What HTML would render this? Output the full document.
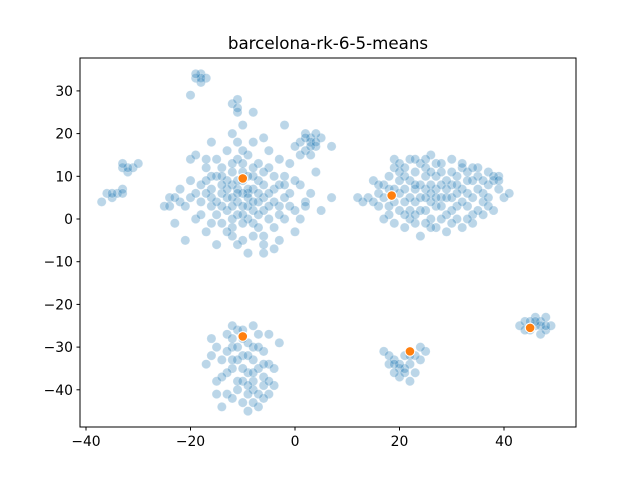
<!DOCTYPE html>
<html><head><meta charset="utf-8"><style>
html,body{margin:0;padding:0;background:#fff;}
svg{display:block;font-family:"DejaVu Sans","Liberation Sans",sans-serif;}
</style></head><body>
<svg id="chart" width="640" height="480">
<rect x="0" y="0" width="640" height="480" fill="#fff"/>
<text x="328" y="49" font-size="16.7" text-anchor="middle">barcelona-rk-6-5-means</text>
<g id="points"></g>
<g id="centers"></g>
<rect x="80" y="58" width="496" height="369" fill="none" stroke="#000" stroke-width="1"/>
<g id="axes"></g>
</svg>
<script>
const xTicks=[-40,-20,0,20,40];
const yTicks=[-40,-30,-20,-10,0,10,20,30];
const clusterA=[[-20,5],[-18,8],[-16,3],[-15,10],[-14,6],[-13,2],[-12,8],[-11,4],[-10,11],[-9,6],[-8,2],[-7,9],[-6,5],[-5,12],[-4,7],[-3,3],[-2,10],[-1,6],[0,2],[1,8],[2,4],[-19,0],[-17,-3],[-15,-6],[-12,-2],[-10,-5],[-8,-1],[-6,-4],[-4,-2],[-2,0],[-11,14],[-9,15],[-7,13],[-13,16],[-15,14],[-17,12],[-5,16],[-3,14],[-12,20],[-10,22],[-11,25],[-12,27],[-11,28],[-8,25],[-16,18],[-6,19],[-22,4],[-24,5],[-25,3],[-23,-1],[-21,-5],[-20,14],[-19,15],[-18,34],[-17,33],[-19,33],[-18,32],[-20,29],[-16,10],[-14,12],[-12,11],[-10,9],[-8,7],[-6,8],[-4,4],[-2,5],[0,9],[3,6],[5,2],[7,5],[-13,5],[-11,7],[-9,3],[-7,1],[-5,0],[-3,-5],[0,-3],[2,3],[-16,7],[-18,4],[-20,9],[-22,7],[-14,-1],[-9,-8],[-6,-8],[-1,13],[1,15],[4,11],[-8,18],[-2,22],[-12,5],[-10,3],[-9,7],[-11,1],[-13,9],[-7,4],[-8,10],[-10,6],[-14,3],[-6,2],[-15,4],[-12,-4],[-9,0],[-3,8],[-5,3],
[-11,6],[-9,5],[-12,3],[-10,1],[-8,4],[-13,7],[-11,9],[-9,10],[-7,6],[-14,8],[-16,5],[-12,0],[-10,-1],[-7,-2],[-5,6],[-4,10],[-6,11],[-8,12],[-10,13],[-12,13],[-14,10],[-17,6],[-19,6],[-21,3],[-18,1],[-16,-1],[-13,-3],[-11,-6],[-6,-6],[-3,1],[-1,3],[1,0],[-17,9],[-15,1],[-10,16],[-11,18],[-11,26],[-18,33],[-19,34],[-17,14],[-23,5],[-24,3],[-8,-4],[-4,-7],[-2,8]];
const clusterB=[[1,18],[2,20],[3,19],[4,17],[2,16],[5,19],[3,15],[0,17],[7,17],[4,20],[3,18],[2,19],[3,17],[4,18]];
const clusterC=[[-36,6],[-35,5],[-34,6],[-33,7],[-33,12],[-32,11],[-31,12],[-30,13],[-37,4],[-33,6],[-32,12],[-35,6],[-33,13]];
const clusterD=[[14,5],[16,3],[17,8],[18,1],[19,12],[20,6],[21,-2],[22,9],[23,4],[24,13],[25,7],[26,0],[27,10],[28,5],[29,-3],[30,8],[31,3],[32,12],[33,6],[34,1],[35,10],[36,4],[37,8],[38,2],[39,7],[40,5],[41,6],[15,9],[17,0],[19,4],[21,10],[23,-1],[25,12],[27,3],[29,9],[31,0],[33,11],[35,2],[37,11],[19,14],[22,14],[26,15],[30,14],[16,6],[18,10],[20,2],[22,5],[24,8],[26,4],[28,11],[30,2],[32,7],[34,9],[36,6],[24,-4],[27,-2],[32,-2],[13,4],[39,10],[21,7],[23,11],[25,2],[27,7],[29,5],[31,10],[33,3],[18,7],[20,11],[35,7],[24,5],[26,8],[28,3],[22,2],[30,5],[38,9],
[12,5],[15,4],[17,5],[19,7],[20,9],[21,4],[22,0],[23,7],[24,2],[25,10],[26,6],[27,13],[28,8],[29,1],[30,11],[31,6],[32,4],[33,9],[34,5],[35,12],[36,9],[37,5],[38,10],[39,9],[37,3],[36,1],[34,-1],[33,0],[30,-1],[28,0],[26,-2],[25,-1],[23,1],[21,1],[19,-1],[18,3],[16,8],[20,13],[23,14],[25,14],[28,13],[32,13],[34,12],[29,7],[27,5],[25,5],[23,8],[21,12],[31,8],[26,11]];
const clusterE=[[-17,-34],[-15,-30],[-15,-38],[-14,-33],[-13,-27],[-13,-41],[-12,-35],[-12,-30],[-11,-26],[-11,-38],[-10,-32],[-10,-43],[-9,-36],[-9,-29],[-8,-40],[-8,-33],[-7,-44],[-7,-27],[-6,-37],[-6,-31],[-5,-41],[-5,-34],[-4,-39],[-3,-29],[-14,-44],[-12,-42],[-9,-45],[-16,-28],[-11,-33],[-7,-35],[-13,-36],[-10,-38],[-8,-30],[-6,-42],[-4,-35],[-12,-25],[-8,-25],[-15,-41],[-10,-28],[-5,-27],[-8,-38],[-9,-41],
[-11,-30],[-9,-32],[-7,-30],[-12,-33],[-10,-35],[-8,-36],[-6,-39],[-7,-41],[-9,-39],[-11,-40],[-13,-31],[-14,-37],[-6,-34],[-5,-38],[-8,-43],[-10,-26],[-12,-28],[-16,-32]];
const clusterF=[[17,-31],[18,-34],[19,-33],[20,-35],[20,-37],[21,-32],[22,-34],[22,-38],[23,-36],[24,-33],[25,-31],[24,-30],[19,-36],[21,-35],[23,-32],[18,-32],[20,-34],[19,-34],[21,-36],[22,-32]];
const clusterG=[[43,-25],[44,-24],[45,-26],[46,-23],[46,-25],[47,-27],[47,-24],[48,-26],[48,-23],[49,-25],[45,-24],[44,-26],[47,-25],[46,-24],[48,-25]];
const centroids=[[-10,9.5],[18.5,5.5],[-10,-27.5],[22,-31],[45,-25.5]];
const NS="http://www.w3.org/2000/svg";
function sx(v){return 295+v*5.225;}
function sy(v){return 219-v*4.27;}
const pg=document.getElementById('points');
[clusterA,clusterB,clusterC,clusterD,clusterE,clusterF,clusterG].forEach(cl=>{
  cl.forEach(p=>{
    const c=document.createElementNS(NS,'circle');
    c.setAttribute('cx',sx(p[0]));c.setAttribute('cy',sy(p[1]));c.setAttribute('r',4.6);
    c.setAttribute('fill','#1f77b4');c.setAttribute('fill-opacity','0.3');
    c.setAttribute('stroke','#fff');c.setAttribute('stroke-opacity','0.3');c.setAttribute('stroke-width','0.7');
    
    
    pg.appendChild(c);
  });
});
const cg=document.getElementById('centers');
centroids.forEach(p=>{
  const c=document.createElementNS(NS,'circle');
  c.setAttribute('cx',sx(p[0]));c.setAttribute('cy',sy(p[1]));c.setAttribute('r',4.8);
  c.setAttribute('fill','#ff7f0e');c.setAttribute('stroke','#fff');c.setAttribute('stroke-width','1');
  
  
  cg.appendChild(c);
});
const ag=document.getElementById('axes');
xTicks.forEach(t=>{
  const x=sx(t);
  const l=document.createElementNS(NS,'line');
  l.setAttribute('x1',x);l.setAttribute('x2',x);l.setAttribute('y1',427);l.setAttribute('y2',430.5);l.setAttribute('stroke','#000');
  
  
  ag.appendChild(l);
  const tx=document.createElementNS(NS,'text');
  tx.setAttribute('x',x);tx.setAttribute('y',446);tx.setAttribute('font-size','13.9');tx.setAttribute('text-anchor','middle');
  tx.textContent=(t<0?'\u2212'+(-t):t);
  
  
  ag.appendChild(tx);
});
yTicks.forEach(t=>{
  const y=sy(t);
  const l=document.createElementNS(NS,'line');
  l.setAttribute('x1',76.5);l.setAttribute('x2',80);l.setAttribute('y1',y);l.setAttribute('y2',y);l.setAttribute('stroke','#000');
  
  
  ag.appendChild(l);
  const tx=document.createElementNS(NS,'text');
  tx.setAttribute('x',73);tx.setAttribute('y',y+5);tx.setAttribute('font-size','13.9');tx.setAttribute('text-anchor','end');
  tx.textContent=(t<0?'\u2212'+(-t):t);
  
  
  ag.appendChild(tx);
});
</script>
</body></html>
